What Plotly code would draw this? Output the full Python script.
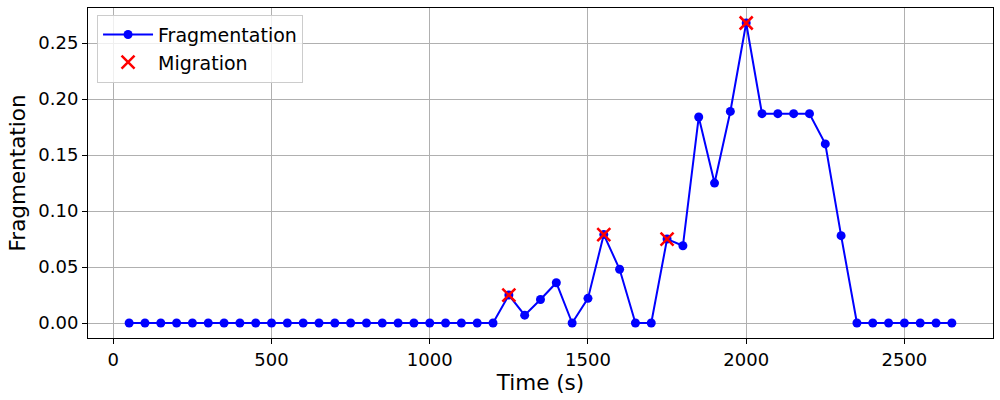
import plotly.graph_objects as go

time_s = [50, 100, 150, 200, 250, 300, 350, 400, 450, 500, 550, 600, 650, 700, 750, 800,
          850, 900, 950, 1000, 1050, 1100, 1150, 1200, 1250, 1300, 1350, 1400, 1450, 1500,
          1550, 1600, 1650, 1700, 1750, 1800, 1850, 1900, 1950, 2000, 2050, 2100, 2150,
          2200, 2250, 2300, 2350, 2400, 2450, 2500, 2550, 2600, 2650]
fragmentation = [0, 0, 0, 0, 0, 0, 0, 0, 0, 0, 0, 0, 0, 0, 0, 0,
                 0, 0, 0, 0, 0, 0, 0, 0, 0.025, 0.007, 0.021, 0.036, 0.0, 0.022,
                 0.079, 0.048, 0.0, 0.0, 0.075, 0.069, 0.184, 0.125, 0.189, 0.268, 0.187, 0.187, 0.187,
                 0.187, 0.160, 0.078, 0, 0, 0, 0, 0, 0, 0]
migration_t = [1250, 1550, 1750, 2000]
migration_v = [0.025, 0.079, 0.075, 0.268]

fig = go.Figure()
fig.add_trace(go.Scatter(x=time_s, y=fragmentation, mode="lines+markers", name="Fragmentation",
                         line=dict(color="blue", width=2),
                         marker=dict(color="blue", size=9)))
fig.add_trace(go.Scatter(x=migration_t, y=migration_v, mode="markers", name="Migration",
                         marker=dict(symbol="x-thin", size=13, color="red",
                                     line=dict(color="red", width=2.5))))

axis_common = dict(showline=True, linecolor="black", linewidth=1, mirror=True,
                   ticks="outside", ticklen=5, tickcolor="black", automargin=False,
                   showgrid=True, gridcolor="#b0b0b0", gridwidth=1, zeroline=False,
                   tickfont=dict(size=18, color="black"))
fig.update_xaxes(range=[-80, 2780], tickvals=[0, 500, 1000, 1500, 2000, 2500],
                 title=dict(text="Time (s)", font=dict(size=21.5, color="black"), standoff=4),
                 **axis_common)
fig.update_yaxes(range=[-0.0134, 0.2814], tickvals=[0, 0.05, 0.10, 0.15, 0.20, 0.25],
                 tickformat=".2f",
                 title=dict(text="Fragmentation", font=dict(size=21.5, color="black"), standoff=6),
                 **axis_common)
fig.update_layout(width=1000, height=400, margin=dict(l=88, r=7, t=8, b=62),
                  plot_bgcolor="white", paper_bgcolor="white",
                  font=dict(family="DejaVu Sans", color="black"),
                  legend=dict(x=0.01, y=0.98, xanchor="left", yanchor="top",
                              bgcolor="rgba(255,255,255,0.8)", bordercolor="#cccccc",
                              borderwidth=1, font=dict(size=19), tracegroupgap=0,
                              itemwidth=50),
                  showlegend=True)
fig.write_html("out.html", config={"displayModeBar": False},
               post_script="document.body.style.margin='0';document.body.style.overflow='hidden';")
